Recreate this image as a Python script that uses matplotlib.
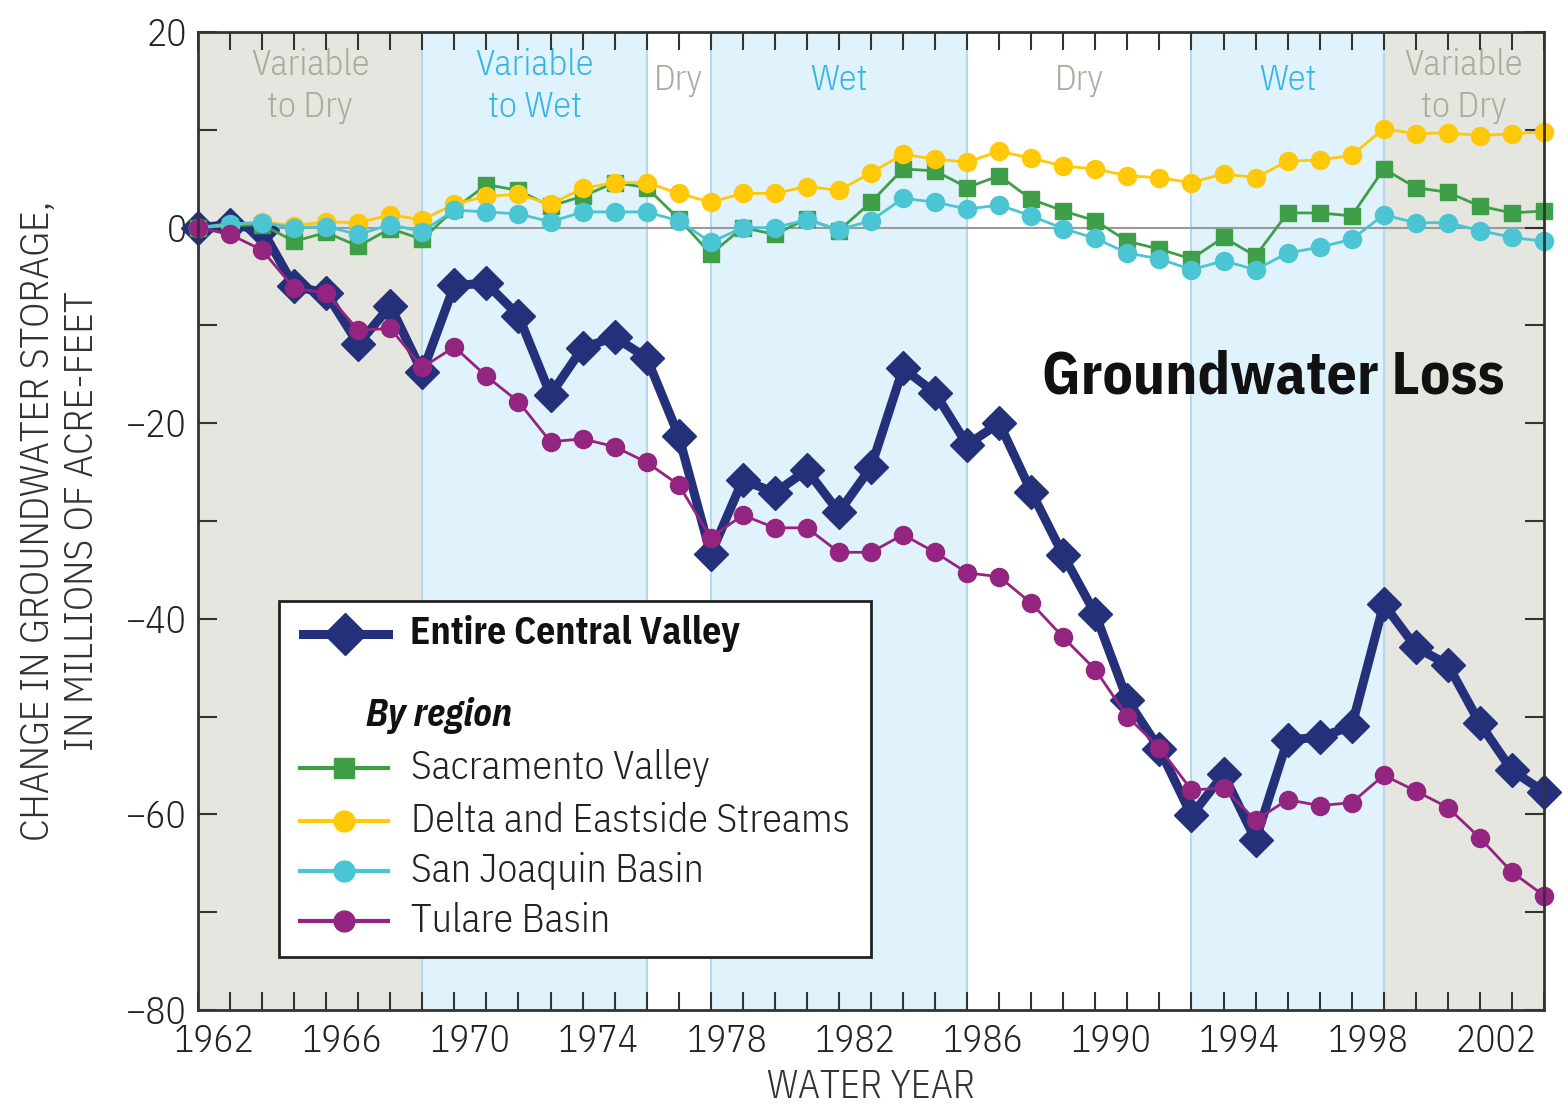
import matplotlib
matplotlib.use("Agg")
import matplotlib.pyplot as plt
from matplotlib.lines import Line2D
from matplotlib.patches import Rectangle
import numpy as np

plt.rcParams['font.family'] = ['IBM Plex Sans Condensed', 'DejaVu Sans']

# end of each water year (first value = start of 1962)
years = list(range(1961, 2004))

central = [0, 0.3, -0.2, -6.0, -6.7, -11.9, -8.0, -14.8, -5.9, -5.7,
           -9.0, -17.1, -12.3, -11.2, -13.3, -21.3, -33.4, -25.8, -27.1, -24.8,
           -29.1, -24.5, -14.4, -16.9, -22.2, -20.0, -27.0, -33.5, -39.5, -48.3,
           -53.3, -60.1, -55.9, -62.6, -52.4, -52.1, -51.0, -38.5, -42.9, -44.7,
           -50.7, -55.5, -57.7]
sacramento = [0, 0.2, 0.3, -1.4, -0.5, -1.9, -0.1, -1.2, 1.9, 4.4,
              3.8, 2.2, 3.2, 4.6, 4.1, 0.9, -2.7, 0.0, -0.7, 0.9,
              -0.3, 2.6, 6.0, 5.8, 4.1, 5.3, 2.9, 1.7, 0.7, -1.4,
              -2.2, -3.2, -1.0, -2.9, 1.5, 1.5, 1.2, 6.0, 4.1, 3.6,
              2.2, 1.5, 1.7]
delta = [0, 0.3, 0.6, 0.2, 0.6, 0.5, 1.3, 0.8, 2.4, 3.2,
         3.4, 2.4, 4.0, 4.6, 4.6, 3.5, 2.6, 3.5, 3.5, 4.2,
         3.8, 5.6, 7.5, 7.0, 6.7, 7.8, 7.1, 6.3, 6.0, 5.3,
         5.1, 4.6, 5.5, 5.1, 6.8, 6.9, 7.4, 10.1, 9.6, 9.7,
         9.4, 9.6, 9.8]
san_joaquin = [0, 0.4, 0.5, 0.0, 0.1, -0.7, 0.3, -0.4, 1.8, 1.6,
               1.4, 0.6, 1.6, 1.6, 1.6, 0.7, -1.5, 0.0, 0.0, 0.8,
               -0.2, 0.7, 3.0, 2.6, 1.9, 2.3, 1.2, -0.1, -1.1, -2.6,
               -3.2, -4.3, -3.4, -4.3, -2.6, -2.0, -1.2, 1.3, 0.5, 0.5,
               -0.3, -1.0, -1.4]
tulare = [0, -0.7, -2.3, -6.2, -6.7, -10.5, -10.3, -14.3, -12.2, -15.2,
          -17.8, -21.9, -21.6, -22.4, -24.0, -26.3, -31.7, -29.4, -30.7, -30.7,
          -33.2, -33.2, -31.4, -33.2, -35.3, -35.7, -38.4, -41.9, -45.2, -50.0,
          -53.2, -57.5, -57.3, -60.6, -58.5, -59.1, -58.8, -56.0, -57.6, -59.3,
          -62.4, -65.9, -68.3]

# climate periods: first and last water year, label, kind
period_start = [1962, 1969, 1976, 1978, 1986, 1993, 1999]
period_end = [1968, 1975, 1977, 1985, 1992, 1998, 2003]
period_label = ['Variable\nto Dry', 'Variable\nto Wet', 'Dry', 'Wet', 'Dry', 'Wet', 'Variable\nto Dry']
period_kind = ['var', 'wet', 'dry', 'wet', 'dry', 'wet', 'var']

tick_years = list(range(1962, 2003, 4))

# colors
c_navy = '#24307a'
c_green = '#3f9f48'
c_yellow = '#ffc808'
c_cyan = '#4bc4d4'
c_purple = '#93247f'
c_gray_bg = '#e4e6df'
c_blue_bg = '#e0f3fc'
c_gray_txt = '#a9ab9f'
c_blue_txt = '#35b5e6'
c_axis = '#333333'

fig = plt.figure(figsize=(15.62, 11.11), dpi=100)
ax = fig.add_axes([198/1562, 1 - 1010/1111, 1346/1562, 978/1111])

ax.set_xlim(1961.5, 2003.5)
ax.set_ylim(-80, 20)

# background bands
for s, e, lab, kind in zip(period_start, period_end, period_label, period_kind):
    x0, x1 = s - 0.5, e + 0.5
    if kind == 'var':
        ax.axvspan(x0, x1, color=c_gray_bg, lw=0, zorder=0)
        tc = c_gray_txt
    elif kind == 'wet':
        ax.axvspan(x0, x1, color=c_blue_bg, lw=0, zorder=0)
        ax.axvline(x0, color='#b3d9ea', lw=1.5, zorder=0.5)
        ax.axvline(x1, color='#b3d9ea', lw=1.5, zorder=0.5)
        tc = c_blue_txt
    else:
        tc = c_gray_txt
    ty = 14.5 if '\n' in lab else 15.1
    ax.text((x0 + x1) / 2, ty, lab, color=tc, fontsize=26, fontweight=300,
            ha='center', va='center', linespacing=1.3, zorder=1)

ax.axhline(0, color='#9a9a9a', lw=1.5, zorder=1)

x = np.array(years) + 0.5
ax.plot(x, central, color=c_navy, lw=6.5, marker='D', ms=17, mec=c_navy, zorder=3, clip_on=False)
ax.plot(x, sacramento, color=c_green, lw=2, marker='s', ms=12, zorder=4, clip_on=False)
ax.plot(x, delta, color=c_yellow, lw=2, marker='o', ms=13, zorder=5, clip_on=False)
ax.plot(x, san_joaquin, color=c_cyan, lw=2, marker='o', ms=13, zorder=6, clip_on=False)
ax.plot(x, tulare, color=c_purple, lw=2, marker='o', ms=13, zorder=7, clip_on=False)

# ticks
ax.set_xticks(np.arange(1961.5, 2004, 1))
ax.set_xticklabels([])
ax.set_xticks(tick_years, minor=True)
ax.set_xticklabels([str(y) for y in tick_years], minor=True, fontweight=300)
ax.tick_params(axis='x', which='major', direction='in', length=13, width=1.5,
               top=True, bottom=True, color=c_axis)
ax.tick_params(axis='x', which='minor', length=0, pad=10, labelsize=27, labelcolor='#222222')
ax.set_yticks(np.arange(-80, 21, 20))
ax.set_yticks(np.arange(-70, 20, 20), minor=True)
ax.set_yticklabels(['\u221280', '\u221260', '\u221240', '\u221220', '0', '20'], fontweight=300)
ax.tick_params(axis='y', which='both', direction='in', length=14, width=1.5,
               left=True, right=True, color=c_axis, labelsize=27, labelcolor='#222222', pad=8)
for sp in ax.spines.values():
    sp.set_color(c_axis)
    sp.set_linewidth(2)
    sp.set_zorder(8)

ax.set_xlabel('WATER YEAR', fontsize=28, fontweight=300, color='#333333', labelpad=6)
ax.set_ylabel('CHANGE IN GROUNDWATER STORAGE,\nIN MILLIONS OF ACRE-FEET', fontsize=29,
              fontweight=300, color='#333333', labelpad=18, linespacing=1.2)

ax.text(0.971, 0.647, 'Groundwater Loss', transform=ax.transAxes, fontsize=43,
        fontweight='bold', ha='right', va='center', color='#111111', zorder=9)

# legend drawn by hand
lx0, lx1 = (279 - 198) / 1346, (871 - 198) / 1346
ly0, ly1 = (1010 - 957) / 978, (1010 - 601) / 978
ax.add_patch(Rectangle((lx0, ly0), lx1 - lx0, ly1 - ly0, transform=ax.transAxes,
                       facecolor='white', edgecolor='#222222', lw=2, zorder=10))

def py(v):
    return (1010 - v) / 978

def px(v):
    return (v - 198) / 1346

ax.add_line(Line2D([px(303), px(388)], [py(634), py(634)], color=c_navy, lw=6.5,
                   transform=ax.transAxes, zorder=11))
ax.add_line(Line2D([px(345)], [py(634)], color=c_navy, marker='D', ms=21,
                   transform=ax.transAxes, zorder=11))
ax.text(px(410), py(634), 'Entire Central Valley', transform=ax.transAxes, fontsize=27,
        fontweight='bold', ha='left', va='center', color='#111111', zorder=11)
ax.text(px(366), py(715), 'By region', transform=ax.transAxes, fontsize=27,
        fontweight='bold', style='italic', ha='left', va='center', color='#111111', zorder=11)

leg_rows = [(768, c_green, 's', 'Sacramento Valley'),
            (821, c_yellow, 'o', 'Delta and Eastside Streams'),
            (871, c_cyan, 'o', 'San Joaquin Basin'),
            (921, c_purple, 'o', 'Tulare Basin')]
for yy, col, mk, lab in leg_rows:
    ax.add_line(Line2D([px(300), px(388)], [py(yy), py(yy)], color=col, lw=3,
                       transform=ax.transAxes, zorder=11))
    ax.add_line(Line2D([px(344)], [py(yy)], color=col, marker=mk, ms=15,
                       transform=ax.transAxes, zorder=11))
    ax.text(px(411), py(yy), lab, transform=ax.transAxes, fontsize=28.8, fontweight=300,
            ha='left', va='center', color='#222222', zorder=11)

fig.savefig('out.png', dpi=100)
